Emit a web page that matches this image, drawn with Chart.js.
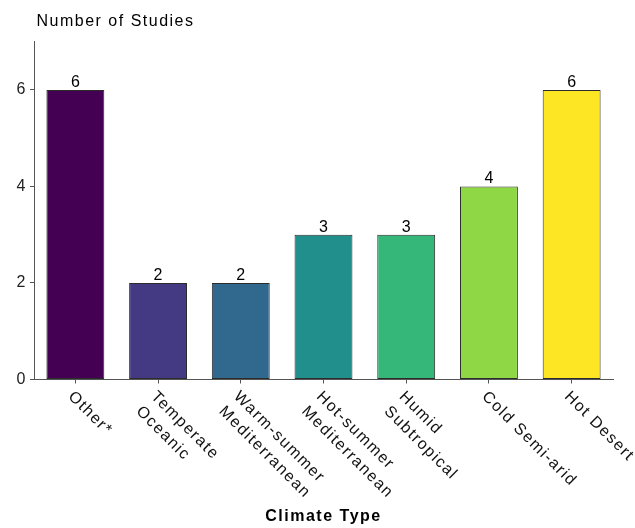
<!DOCTYPE html>
<html>
<head>
<meta charset="utf-8">
<script src="https://cdn.jsdelivr.net/npm/chart.js@4"></script>
<style>
  html, body { margin: 0; padding: 0; background: #fff; }
  #wrap { width: 635px; height: 528px; }
</style>
</head>
<body>
<div id="wrap"><canvas id="c" width="635" height="528"></canvas></div>
<script>
const categories = [
  ["Other*"],
  ["Temperate", "Oceanic"],
  ["Warm-summer", "Mediterranean"],
  ["Hot-summer", "Mediterranean"],
  ["Humid", "Subtropical"],
  ["Cold Semi-arid"],
  ["Hot Desert"]
];
const studyCounts = [6, 2, 2, 3, 3, 4, 6];
const barColors = ["#440154", "#443A83", "#31688E", "#21908C", "#35B779", "#8FD744", "#FDE725"];
const yTicks = [0, 2, 4, 6];
const yTitle = "Number of Studies";
const xTitle = "Climate Type";

const FONT = "'Liberation Sans', Arial, sans-serif";
const SPACING = "1.5px";

const spacingPlugin = {
  id: 'spacing',
  beforeLayout(chart) { chart.ctx.letterSpacing = SPACING; },
  beforeDraw(chart) { chart.ctx.letterSpacing = SPACING; },
  afterLayout(chart) {
    if (chart.titleBlock) { chart.titleBlock.left = 36.5; }
  }
};

const labelPlugin = {
  id: 'labels',
  afterDatasetsDraw(chart) {
    const ctx = chart.ctx;
    const meta = chart.getDatasetMeta(0);
    ctx.save();
    ctx.letterSpacing = SPACING;
    ctx.font = "16px " + FONT;
    ctx.fillStyle = "#000";
    ctx.textAlign = "center";
    ctx.textBaseline = "alphabetic";
    meta.data.forEach((bar, i) => {
      ctx.fillText(String(studyCounts[i]), bar.x + 0.75, bar.y - 3);
    });
    ctx.restore();
  },
  afterDraw(chart) {
    const ctx = chart.ctx;
    const xs = chart.scales.x;
    ctx.save();
    ctx.letterSpacing = SPACING;
    ctx.font = "16px " + FONT;
    ctx.fillStyle = "#111";
    ctx.textAlign = "left";
    ctx.textBaseline = "top";
    const lineH = 21;
    categories.forEach((lines, i) => {
      const px = xs.getPixelForValue(i);
      ctx.save();
      ctx.translate(px + 1, xs.top + 9);
      ctx.rotate(Math.PI / 4);
      lines.forEach((ln, j) => {
        ctx.fillText(ln, 0, j * lineH);
      });
      ctx.restore();
    });
    ctx.restore();
  }
};

new Chart(document.getElementById('c'), {
  type: 'bar',
  data: {
    labels: categories,
    datasets: [{
      data: studyCounts,
      backgroundColor: barColors,
      borderColor: "#2b2b2b",
      borderWidth: 1,
      borderSkipped: false,
      barPercentage: 0.7,
      categoryPercentage: 1.0
    }]
  },
  options: {
    responsive: false,
    animation: false,
    devicePixelRatio: 1,
    layout: { padding: { left: 0, right: 22, top: 0, bottom: 0 } },
    plugins: {
      legend: { display: false },
      tooltip: { enabled: false },
      title: {
        display: true,
        text: yTitle,
        align: 'start',
        color: "#000",
        font: { family: FONT, size: 16, weight: 'normal' },
        padding: { top: 12, bottom: 10.5 }
      }
    },
    scales: {
      x: {
        offset: true,
        grid: { display: true, offset: false, drawOnChartArea: false, drawTicks: true, tickLength: 4, color: "#555" },
        border: { display: true, color: "#555", width: 1 },
        ticks: { display: false },
        title: {
          display: true,
          text: xTitle,
          color: "#000",
          font: { family: FONT, size: 16, weight: 'bold' },
          padding: { top: 0, bottom: 1.5 }
        },
        afterFit(scale) { scale.height = 148.5; }
      },
      y: {
        min: 0,
        max: 7,
        grid: { display: true, drawOnChartArea: false, drawTicks: true, tickLength: 4, color: "#555" },
        border: { display: true, color: "#555", width: 1 },
        ticks: {
          stepSize: 2,
          includeBounds: false,
          color: "#222",
          padding: 3,
          font: { family: FONT, size: 16 },
          callback: (v) => yTicks.includes(v) ? String(v) : ''
        },
        afterFit(scale) { scale.width = 34; }
      }
    }
  },
  plugins: [spacingPlugin, labelPlugin]
});
</script>
</body>
</html>
